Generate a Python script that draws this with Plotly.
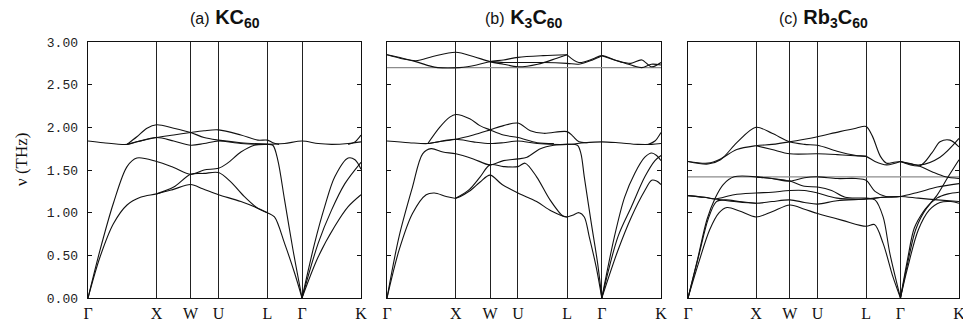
import plotly.graph_objects as go

# ---------------- data ----------------
path_pos = [0.0, 0.251, 0.376, 0.478, 0.657, 0.784, 1.0]
path_labels = ["Γ", "X", "W", "U", "L", "Γ", "K"]
freq_ticks = [0.0, 0.5, 1.0, 1.5, 2.0, 2.5, 3.0]
freq_tick_labels = ["0.00", "0.50", "1.00", "1.50", "2.00", "2.50", "3.00"]
panel_tags = ["(a)", "(b)", "(c)"]
panel_compounds = ["KC<sub>60</sub>", "K<sub>3</sub>C<sub>60</sub>", "Rb<sub>3</sub>C<sub>60</sub>"]
y_title = "ν (THz)"

# (a) KC60 branches: [k, nu(THz)]
a_ta1 = [[0, 0], [0.044, 0.48], [0.093, 0.87], [0.143, 1.09], [0.192, 1.18], [0.251, 1.22], [0.31, 1.27],
         [0.376, 1.33], [0.42, 1.28], [0.478, 1.21], [0.56, 1.13], [0.657, 1.00], [0.683, 0.95],
         [0.72, 0.64], [0.757, 0.29], [0.784, 0.0]]
a_ta2 = [[0, 0], [0.044, 0.56], [0.093, 1.11], [0.143, 1.54], [0.179, 1.64], [0.251, 1.60], [0.314, 1.53],
         [0.376, 1.45], [0.425, 1.50], [0.478, 1.52], [0.511, 1.58], [0.56, 1.71], [0.609, 1.79], [0.657, 1.80]]
a_b3 = [[0.251, 1.22], [0.314, 1.30], [0.376, 1.45], [0.425, 1.46], [0.478, 1.47], [0.523, 1.36],
        [0.572, 1.19], [0.622, 1.05], [0.657, 1.00]]
a_la = [[0.657, 1.80], [0.677, 1.79], [0.695, 1.62], [0.72, 1.15], [0.75, 0.58], [0.784, 0]]
a_k1 = [[0.784, 0], [0.83, 0.64], [0.867, 1.07], [0.904, 1.42], [0.953, 1.64], [0.978, 1.62], [1.0, 1.51]]
a_k2 = [[0.784, 0], [0.843, 0.64], [0.892, 1.03], [0.941, 1.34], [1.0, 1.59]]
a_k3 = [[0.784, 0], [0.843, 0.48], [0.904, 0.84], [0.953, 1.07], [1.0, 1.21]]
a_f1 = [[0, 1.84], [0.056, 1.82], [0.143, 1.80], [0.179, 1.83], [0.251, 1.88], [0.314, 1.84], [0.376, 1.79],
        [0.425, 1.81], [0.478, 1.84], [0.56, 1.81], [0.657, 1.80], [0.72, 1.81], [0.784, 1.84],
        [0.843, 1.81], [0.892, 1.80], [0.953, 1.81], [1.0, 1.83]]
a_f2 = [[0.143, 1.80], [0.179, 1.83], [0.251, 1.88], [0.314, 1.91], [0.376, 1.94], [0.425, 1.96],
        [0.478, 1.97], [0.56, 1.91], [0.622, 1.85], [0.657, 1.85], [0.677, 1.82], [0.70, 1.80]]
a_f3 = [[0.143, 1.80], [0.179, 1.89], [0.216, 1.99], [0.251, 2.03], [0.314, 1.99], [0.376, 1.94],
        [0.425, 1.88], [0.478, 1.85], [0.56, 1.82], [0.657, 1.80]]
a_f4 = [[0.953, 1.80], [0.978, 1.83], [1.0, 1.91]]

# (b) K3C60 branches
b_ta1 = [[0, 0], [0.044, 0.56], [0.093, 0.99], [0.143, 1.21], [0.173, 1.23], [0.216, 1.19], [0.251, 1.17],
         [0.30, 1.25], [0.34, 1.36], [0.376, 1.44], [0.42, 1.33], [0.478, 1.23], [0.546, 1.13],
         [0.60, 1.02], [0.657, 0.95], [0.677, 0.97], [0.701, 1.00], [0.72, 0.95], [0.738, 0.72],
         [0.763, 0.37], [0.784, 0]]
b_ta2 = [[0, 0], [0.044, 0.72], [0.093, 1.30], [0.13, 1.69], [0.161, 1.75], [0.204, 1.71], [0.251, 1.69],
         [0.315, 1.63], [0.376, 1.56], [0.425, 1.61], [0.478, 1.63], [0.511, 1.65], [0.56, 1.75],
         [0.609, 1.79], [0.657, 1.80]]
b_b3 = [[0.251, 1.17], [0.30, 1.27], [0.34, 1.42], [0.376, 1.56], [0.425, 1.54], [0.478, 1.54],
        [0.504, 1.58], [0.546, 1.42], [0.595, 1.15], [0.642, 0.96], [0.657, 0.95]]
b_la = [[0.657, 1.80], [0.695, 1.79], [0.708, 1.69], [0.72, 1.42], [0.744, 0.91], [0.769, 0.40], [0.784, 0]]
b_k1 = [[0.784, 0], [0.83, 0.72], [0.867, 1.18], [0.904, 1.46], [0.941, 1.65], [0.966, 1.70],
        [0.984, 1.67], [1.0, 1.61]]
b_k2 = [[0.784, 0], [0.843, 0.72], [0.892, 1.07], [0.941, 1.42], [0.978, 1.61], [1.0, 1.67]]
b_k3 = [[0.784, 0], [0.843, 0.56], [0.892, 0.95], [0.941, 1.26], [0.966, 1.38], [0.984, 1.37], [1.0, 1.33]]
b_f1 = [[0, 1.84], [0.081, 1.82], [0.149, 1.81], [0.204, 1.84], [0.251, 1.86], [0.315, 1.83], [0.376, 1.81],
        [0.425, 1.82], [0.478, 1.84], [0.548, 1.81], [0.657, 1.80], [0.72, 1.82], [0.784, 1.83],
        [0.843, 1.82], [0.916, 1.80], [0.966, 1.80], [1.0, 1.81]]
b_f2 = [[0.149, 1.81], [0.204, 1.84], [0.251, 1.86], [0.315, 1.91], [0.376, 1.97], [0.425, 2.02],
        [0.478, 2.05], [0.523, 1.96], [0.572, 1.93], [0.657, 1.95], [0.677, 1.90], [0.701, 1.83], [0.732, 1.82]]
b_f3 = [[0.149, 1.81], [0.192, 2.00], [0.229, 2.12], [0.251, 2.15], [0.302, 2.10], [0.339, 2.02],
        [0.376, 1.97], [0.425, 1.91], [0.478, 1.88], [0.548, 1.82], [0.609, 1.81]]
b_f4 = [[0.953, 1.80], [0.978, 1.84], [1.0, 1.94]]
b_t1 = [[0, 2.85], [0.057, 2.81], [0.105, 2.77], [0.155, 2.72], [0.185, 2.70], [0.265, 2.70], [0.327, 2.73],
        [0.376, 2.77], [0.425, 2.79], [0.478, 2.82], [0.57, 2.84], [0.657, 2.85]]
b_t2 = [[0, 2.85], [0.105, 2.78], [0.167, 2.83], [0.251, 2.88], [0.315, 2.83], [0.376, 2.77],
        [0.425, 2.74], [0.478, 2.71], [0.55, 2.74], [0.62, 2.81], [0.657, 2.85]]
b_t3 = [[0.376, 2.77], [0.425, 2.76], [0.478, 2.76], [0.57, 2.76], [0.657, 2.75], [0.70, 2.74],
        [0.75, 2.79], [0.784, 2.84]]
b_t4 = [[0.657, 2.85], [0.70, 2.76], [0.75, 2.80], [0.784, 2.84], [0.84, 2.78], [0.89, 2.75],
        [0.93, 2.79], [0.965, 2.71], [1.0, 2.76]]
b_t5 = [[0.784, 2.84], [0.85, 2.77], [0.90, 2.72], [0.93, 2.70], [0.965, 2.74], [1.0, 2.73]]
b_flat = [[0, 2.70], [1.0, 2.70]]

# (c) Rb3C60 branches
c_a1 = [[0, 0], [0.04, 0.42], [0.08, 0.80], [0.115, 1.00], [0.144, 1.06], [0.19, 1.02], [0.251, 0.95],
        [0.31, 1.01], [0.376, 1.09], [0.43, 1.04], [0.478, 0.99], [0.57, 0.91], [0.657, 0.84],
        [0.688, 0.86], [0.72, 0.64], [0.756, 0.25], [0.784, 0]]
c_a2 = [[0, 0], [0.04, 0.50], [0.075, 0.93], [0.105, 1.13], [0.14, 1.15], [0.19, 1.13], [0.251, 1.11]]
c_la = [[0, 0], [0.035, 0.45], [0.07, 0.92], [0.10, 1.17], [0.13, 1.33], [0.17, 1.42], [0.251, 1.42]]
c_m1 = [[0, 1.20], [0.06, 1.18], [0.10, 1.16], [0.17, 1.13], [0.251, 1.11], [0.31, 1.13], [0.376, 1.15],
        [0.43, 1.12], [0.478, 1.10], [0.55, 1.14], [0.657, 1.16], [0.72, 1.18], [0.784, 1.19],
        [0.85, 1.17], [0.92, 1.15], [1.0, 1.13]]
c_m2 = [[0, 1.20], [0.06, 1.18], [0.10, 1.16], [0.17, 1.21], [0.251, 1.23], [0.31, 1.24], [0.376, 1.26],
        [0.43, 1.26], [0.478, 1.23], [0.55, 1.17], [0.657, 1.16], [0.72, 1.18], [0.784, 1.19],
        [0.85, 1.24], [0.92, 1.30], [1.0, 1.34]]
c_m3 = [[0.251, 1.42], [0.31, 1.40], [0.376, 1.37], [0.43, 1.31], [0.478, 1.30], [0.53, 1.26],
        [0.58, 1.18], [0.657, 1.17], [0.69, 1.15], [0.72, 0.95], [0.745, 0.52], [0.784, 0]]
c_m4 = [[0.251, 1.42], [0.31, 1.40], [0.376, 1.37], [0.43, 1.41], [0.478, 1.42], [0.55, 1.40],
        [0.62, 1.40], [0.657, 1.38], [0.69, 1.25], [0.73, 1.19], [0.784, 1.19]]
c_t1 = [[0, 1.60], [0.074, 1.57], [0.12, 1.62], [0.18, 1.82], [0.251, 2.0], [0.31, 1.93], [0.376, 1.83],
        [0.43, 1.80], [0.478, 1.79], [0.55, 1.72], [0.62, 1.67], [0.657, 1.66], [0.69, 1.60],
        [0.733, 1.56], [0.784, 1.60]]
c_t2 = [[0, 1.60], [0.074, 1.58], [0.12, 1.63], [0.18, 1.74], [0.251, 1.785], [0.31, 1.80], [0.376, 1.83],
        [0.43, 1.86], [0.478, 1.89], [0.56, 1.95], [0.62, 1.99], [0.657, 2.01], [0.68, 1.90],
        [0.71, 1.66], [0.733, 1.58], [0.76, 1.59], [0.784, 1.60]]
c_t3 = [[0.251, 1.785], [0.31, 1.74], [0.376, 1.69], [0.478, 1.69], [0.55, 1.68], [0.60, 1.67], [0.657, 1.66]]
c_k1 = [[0.784, 1.60], [0.856, 1.55], [0.90, 1.70], [0.93, 1.83], [0.967, 1.85], [1.0, 1.77]]
c_k2 = [[0.784, 1.60], [0.856, 1.56], [0.93, 1.65], [1.0, 1.87]]
c_k3 = [[0.784, 1.60], [0.85, 1.55], [0.90, 1.48], [0.95, 1.42], [1.0, 1.40]]
c_ka1 = [[0.784, 0], [0.81, 0.45], [0.835, 0.82], [0.87, 1.02], [0.918, 1.20], [0.96, 1.42], [1.0, 1.62]]
c_ka2 = [[0.784, 0], [0.81, 0.40], [0.84, 0.80], [0.88, 1.05], [0.918, 1.17], [0.96, 1.22], [1.0, 1.24]]
c_ka3 = [[0.784, 0], [0.81, 0.35], [0.85, 0.80], [0.89, 1.03], [0.93, 1.12], [0.97, 1.13], [1.0, 1.11]]
c_flat = [[0, 1.42], [1.0, 1.42]]

panel_branches = [
    [a_ta1, a_ta2, a_b3, a_la, a_k1, a_k2, a_k3, a_f1, a_f2, a_f3, a_f4],
    [b_ta1, b_ta2, b_b3, b_la, b_k1, b_k2, b_k3, b_f1, b_f2, b_f3, b_f4, b_t1, b_t2, b_t3, b_t4, b_t5],
    [c_a1, c_a2, c_la, c_m1, c_m2, c_m3, c_m4, c_t1, c_t2, c_t3, c_k1, c_k2, c_k3, c_ka1, c_ka2, c_ka3],
]
panel_flat = [[], [b_flat], [c_flat]]

# ---------------- figure ----------------
W, H = 963, 328
x_domains = [(88 / W, 361 / W), (387 / W, 661 / W), (688 / W, 959 / W)]
y_domain = (30 / H, 286 / H)

fig = go.Figure()
for i, branches in enumerate(panel_branches):
    xa = "x" if i == 0 else f"x{i+1}"
    ya = "y" if i == 0 else f"y{i+1}"
    for br in panel_flat[i]:
        fig.add_trace(go.Scatter(x=[p[0] for p in br], y=[p[1] for p in br], mode="lines",
                                 line=dict(color="#8c8c8c", width=1.3), xaxis=xa, yaxis=ya,
                                 showlegend=False, hoverinfo="skip"))
    for br in branches:
        fig.add_trace(go.Scatter(x=[p[0] for p in br], y=[p[1] for p in br], mode="lines",
                                 line=dict(color="#111111", width=1.1, shape="spline", smoothing=0.9),
                                 xaxis=xa, yaxis=ya, showlegend=False, hoverinfo="skip"))

layout = dict(width=W, height=H, margin=dict(l=0, r=0, t=0, b=0, autoexpand=False),
              template="none", hovermode=False,
              paper_bgcolor="white", plot_bgcolor="white", showlegend=False)
annotations = []
for i in range(3):
    sfx = "" if i == 0 else str(i + 1)
    layout["xaxis" + sfx] = dict(
        domain=list(x_domains[i]), anchor="y" + sfx, range=[0, 1], automargin=False,
        tickmode="array", tickvals=path_pos, ticktext=path_labels, ticklabeloverflow="allow",
        showgrid=True, gridcolor="#222222", gridwidth=1, zeroline=False,
        showline=True, mirror=True, linecolor="#111111", linewidth=1.4, ticks="",
        tickfont=dict(family="Liberation Serif", size=16, color="#111111"),
    )
    layout["yaxis" + sfx] = dict(
        domain=list(y_domain), anchor="x" + sfx, range=[0, 3], automargin=False,
        tickmode="array", tickvals=freq_ticks, ticktext=freq_tick_labels,
        showticklabels=(i == 0), showgrid=False, zeroline=False,
        showline=True, mirror="ticks", linecolor="#111111", linewidth=1.4,
        ticks="inside", ticklen=4, tickcolor="#111111",
        tickfont=dict(family="Liberation Mono", size=13, color="#222222"),
        ticklabelstandoff=6,
    )
    cx = (x_domains[i][0] + x_domains[i][1]) / 2
    annotations.append(dict(
        x=cx, y=(H - 18) / H, xref="paper", yref="paper", showarrow=False,
        xanchor="center", yanchor="middle",
        text=f'<span style="font-size:16px">{panel_tags[i]}</span> <b>{panel_compounds[i]}</b>',
        font=dict(family="Liberation Sans", size=20, color="#111111"),
    ))
annotations.append(dict(
    x=21 / W, y=(H - 160) / H, xref="paper", yref="paper", showarrow=False,
    xanchor="center", yanchor="middle", textangle=-90, text=y_title,
    font=dict(family="Liberation Serif", size=17, color="#111111"),
))
layout["annotations"] = annotations
fig.update_layout(**layout)
fig.write_html(
    "out.html",
    config={"displayModeBar": False, "staticPlot": True},
    post_script="document.body.style.margin='0px';document.documentElement.style.overflow='hidden';",
)
